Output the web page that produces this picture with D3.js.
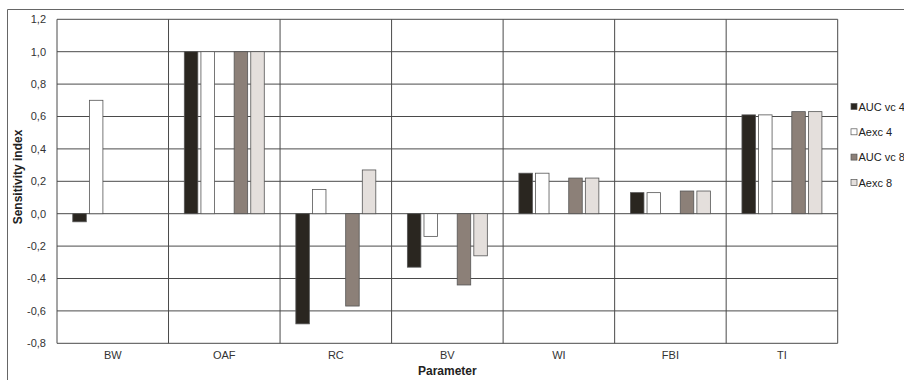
<!DOCTYPE html>
<html><head><meta charset="utf-8">
<script src="https://cdn.jsdelivr.net/npm/d3@7"></script>
<style>body{margin:0;background:#fff}svg{display:block;font-family:"Liberation Sans",Arial,sans-serif}</style>
</head><body><svg id="c" width="904" height="380"></svg>
<script>
const categories = ["BW","OAF","RC","BV","WI","FBI","TI"];
const seriesNames = ["AUC vc 4","Aexc 4","AUC vc 8","Aexc 8"];
const aucvc4 = [-0.05, 1.0, -0.68, -0.33, 0.25, 0.13, 0.61];
const aexc4  = [ 0.70, 1.0,  0.15, -0.14, 0.25, 0.13, 0.61];
const aucvc8 = [ 0.00, 1.0, -0.57, -0.44, 0.22, 0.14, 0.63];
const aexc8  = [ 0.00, 1.0,  0.27, -0.26, 0.22, 0.14, 0.63];
const yTicks = [-0.8,-0.6,-0.4,-0.2,0,0.2,0.4,0.6,0.8,1.0,1.2];
const seriesValues = [aucvc4, aexc4, aucvc8, aexc8];
const colors = ["#2a2620","#ffffff","#8c8078","#e4dfdc"];

const svg = d3.select("#c");
const L = 57, R = 837.7, T = 19.3, B = 343.3;

// outer frame (cropped at right/bottom)
svg.append("path").attr("d","M7.5,400 V9.5 H910").attr("fill","none").attr("stroke","#666").attr("stroke-width",1);

const x0 = d3.scaleBand().domain(categories).range([L,R]).padding(0);
const slotKeys = ["s0","s1","gap","s2","s3"];
const x1 = d3.scaleBand().domain(slotKeys).range([0,x0.bandwidth()]).paddingInner(0.187).paddingOuter(0.95);
const y = d3.scaleLinear().domain([-0.8,1.2]).range([B,T]);

// horizontal gridlines
const grid = svg.append("g");
grid.selectAll("line.h").data(yTicks).join("line")
  .attr("x1",L).attr("x2",R).attr("y1",d=>y(d)).attr("y2",d=>y(d))
  .attr("stroke","#4a4a4a").attr("stroke-width",1);
// vertical category boundaries
const bounds = categories.map(c=>x0(c)).concat([R]);
grid.selectAll("line.v").data(bounds).join("line")
  .attr("x1",d=>d).attr("x2",d=>d).attr("y1",T).attr("y2",B)
  .attr("stroke","#4a4a4a").attr("stroke-width",1);

// y axis labels
const fmt = d => d3.format(".1f")(d).replace(".",",").replace("−","-");
svg.append("g").selectAll("text").data(yTicks).join("text")
  .attr("x",46).attr("y",d=>y(d)).attr("dy","0.35em").attr("text-anchor","end")
  .attr("font-size",11).attr("fill","#333").text(fmt);

// x labels
svg.append("g").selectAll("text").data(categories).join("text")
  .attr("x",d=>x0(d)+x0.bandwidth()/2).attr("y",358.5).attr("text-anchor","middle")
  .attr("font-size",11).attr("fill","#333").text(d=>d);

// bars
const sKeys = ["s0","s1","s2","s3"];
seriesValues.forEach((vals,si)=>{
  svg.append("g").selectAll("rect").data(vals.map((v,i)=>({c:categories[i],v}))).join("rect")
    .filter(d=>d.v!==0)
    .attr("x",d=>x0(d.c)+x1(sKeys[si]))
    .attr("width",x1.bandwidth())
    .attr("y",d=>y(Math.max(0,d.v)))
    .attr("height",d=>Math.abs(y(d.v)-y(0)))
    .attr("fill",colors[si]).attr("stroke","#555").attr("stroke-width",0.8);
});

// axis titles
svg.append("text").attr("x",(L+R)/2).attr("y",374.5).attr("text-anchor","middle")
  .attr("font-size",12).attr("font-weight","bold").attr("fill","#222").text("Parameter");
svg.append("text").attr("transform","translate(22,177) rotate(-90)").attr("text-anchor","middle")
  .attr("font-size",12).attr("font-weight","bold").attr("fill","#222").text("Sensitivity index");

// legend
const lg = svg.append("g");
seriesNames.forEach((n,i)=>{
  const yy = 107 + i*25.3;
  lg.append("rect").attr("x",851).attr("y",yy-3.5).attr("width",6).attr("height",6)
    .attr("fill",colors[i]).attr("stroke","#555").attr("stroke-width",0.7);
  lg.append("text").attr("x",858.5).attr("y",yy).attr("dy","0.35em")
    .attr("font-size",11).attr("fill","#222").text(n);
});
</script></body></html>
